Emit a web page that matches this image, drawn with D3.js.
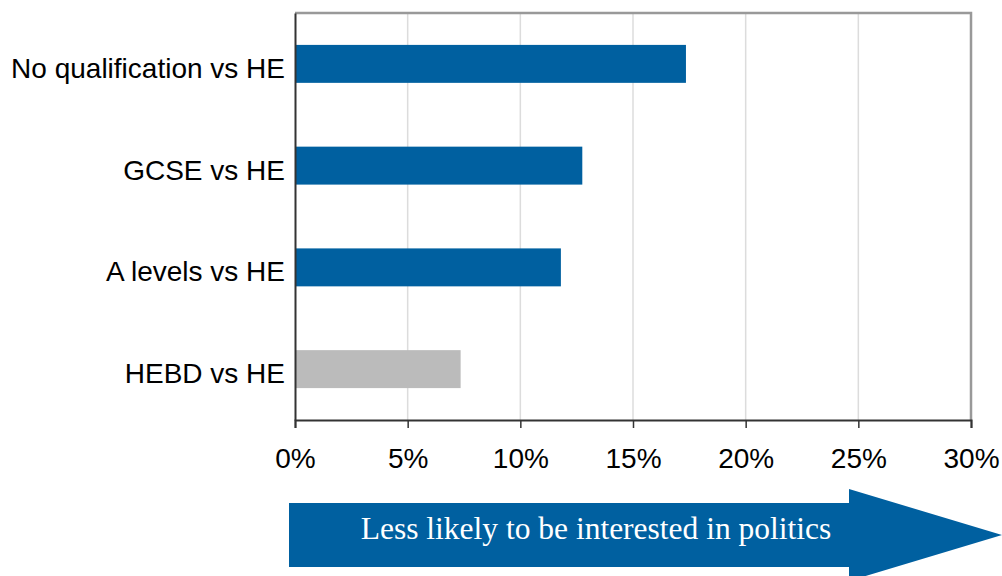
<!DOCTYPE html>
<html><head><meta charset="utf-8">
<script src="https://cdn.jsdelivr.net/npm/d3@7"></script>
<style>body{margin:0;background:#fff}</style>
</head><body>
<svg id="c" width="1002" height="576"></svg>
<script>
const categories = ["No qualification vs HE","GCSE vs HE","A levels vs HE","HEBD vs HE"];
const values = [17.35, 12.75, 11.8, 7.35];
const barColors = ["#0060a0","#0060a0","#0060a0","#bbbbbb"];
const tickValues = [0,5,10,15,20,25,30];
const arrowLabel = "Less likely to be interested in politics";

const svg = d3.select("#c");
const L=295, R=971, T=13, B=420;
const x = d3.scaleLinear().domain([0,30]).range([L,R]);
const y = d3.scaleBand().domain(categories).range([T,B]).paddingInner(0.627).paddingOuter(0.3135);

// gridlines
svg.append("g").selectAll("line").data(tickValues.slice(1,-1)).join("line")
  .attr("x1",d=>x(d)).attr("x2",d=>x(d)).attr("y1",T).attr("y2",B)
  .attr("stroke","#dcdcdc").attr("stroke-width",1.5);
// frame top/right
svg.append("path").attr("d",`M${L},${T}H${R}V${B}`).attr("fill","none").attr("stroke","#999").attr("stroke-width",2.5);

// bars
svg.append("g").selectAll("rect").data(categories).join("rect")
  .attr("x",x(0)).attr("y",d=>y(d)).attr("height",y.bandwidth())
  .attr("width",(d,i)=>x(values[i])-x(0)).attr("fill",(d,i)=>barColors[i]);

// axes
const xa = svg.append("g").attr("transform",`translate(0,${B})`)
  .call(d3.axisBottom(x).tickValues(tickValues).tickFormat(d=>d+"%").tickSize(8).tickPadding(20));
xa.select(".domain").attr("stroke","#333").attr("stroke-width",2);
xa.selectAll(".tick line").attr("stroke","#333").attr("stroke-width",1.5);
xa.selectAll("text").attr("font-family","Liberation Sans, Arial, sans-serif").attr("font-size",28).attr("fill","#000");

const ya = svg.append("g").attr("transform",`translate(${L},0)`)
  .call(d3.axisLeft(y).tickSize(0).tickPadding(10));
ya.select(".domain").attr("stroke","#333").attr("stroke-width",2);
ya.selectAll("text").attr("font-family","Liberation Sans, Arial, sans-serif").attr("font-size",28)
  .attr("dy","0.5em").attr("fill","#000");

// arrow
const ay=535;
svg.append("path")
  .attr("d",`M289,${ay-32}H849V${ay-46}L1002,${ay}L849,${ay+46}V${ay+32}H289Z`)
  .attr("fill","#0060a0");
svg.append("text").attr("x",596).attr("y",ay+4).attr("text-anchor","middle")
  .attr("font-family","Liberation Serif, Times New Roman, serif").attr("font-size",31.5)
  .attr("fill","#fff").text(arrowLabel);
</script>
</body></html>
